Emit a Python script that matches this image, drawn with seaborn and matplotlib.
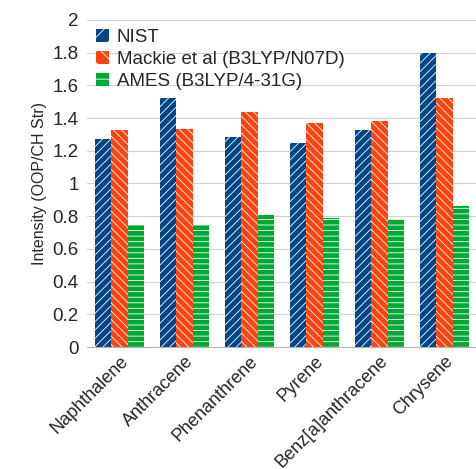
import pandas as pd
import seaborn as sns
import matplotlib.pyplot as plt

molecules = ['Naphthalene', 'Anthracene', 'Phenanthrene', 'Pyrene',
             'Benz[a]anthracene', 'Chrysene']
nist = [1.275, 1.525, 1.285, 1.245, 1.33, 1.80]
mackie = [1.33, 1.335, 1.44, 1.37, 1.385, 1.525]
ames = [0.745, 0.745, 0.81, 0.79, 0.785, 0.86]
series = ['NIST', 'Mackie et al (B3LYP/N07D)', 'AMES (B3LYP/4-31G)']

colors = ['#004586', '#ff420e', '#00a933']
hatches = ['////', '\\\\\\\\', '---']

df = pd.DataFrame({
    'molecule': molecules * 3,
    'intensity': nist + mackie + ames,
    'source': [s for s in series for _ in molecules],
})

sns.set_style('white')
plt.rcParams['font.family'] = ['Liberation Sans', 'DejaVu Sans']
plt.rcParams['hatch.color'] = 'white'
plt.rcParams['hatch.linewidth'] = 0.6

fig = plt.figure(figsize=(4.77, 4.69), dpi=100)
ax = fig.add_axes([87 / 477, 1 - 347 / 469, 390 / 477, 327 / 469])

sns.barplot(data=df, x='molecule', y='intensity', hue='source',
            palette=colors, width=0.75, saturation=1, ax=ax)

# hatch each series
for cont, h in zip(ax.containers, hatches):
    for bar in cont:
        bar.set_hatch(h)
        bar.set_edgecolor('white')
        bar.set_linewidth(0)

ax.set_ylim(0, 2)
ax.set_yticks([i * 0.2 for i in range(11)])
ax.set_yticklabels(['0', '0.2', '0.4', '0.6', '0.8', '1', '1.2', '1.4', '1.6', '1.8', '2'])
ax.yaxis.grid(True, color='#d0d0d0', linewidth=0.8)
ax.set_axisbelow(True)
for side in ['top', 'right', 'left']:
    ax.spines[side].set_visible(False)
ax.spines['bottom'].set_color('#b3b3b3')
ax.tick_params(axis='y', labelsize=13.5, length=0, pad=6)
ax.tick_params(axis='x', labelsize=13, length=0, pad=4)
ax.set_xticks(range(len(molecules)))
ax.set_xticklabels(molecules, rotation=45, ha='right', rotation_mode='anchor')
ax.set_xlabel('')
ax.set_ylabel('Intensity (OOP/CH Str)', fontsize=11.5)
ax.set_xlim(-0.5, 5.5)

leg = ax.legend(loc='upper left', bbox_to_anchor=(0.0, 1.0), frameon=False,
                fontsize=13.5, handlelength=0.7, handleheight=0.7,
                handletextpad=0.4, labelspacing=0.25, borderaxespad=0.1)
for patch, h in zip(leg.get_patches(), hatches):
    patch.set_hatch(h[:2])
    patch.set_edgecolor('white')
    patch.set_linewidth(0)

fig.savefig('out.png', dpi=100)
